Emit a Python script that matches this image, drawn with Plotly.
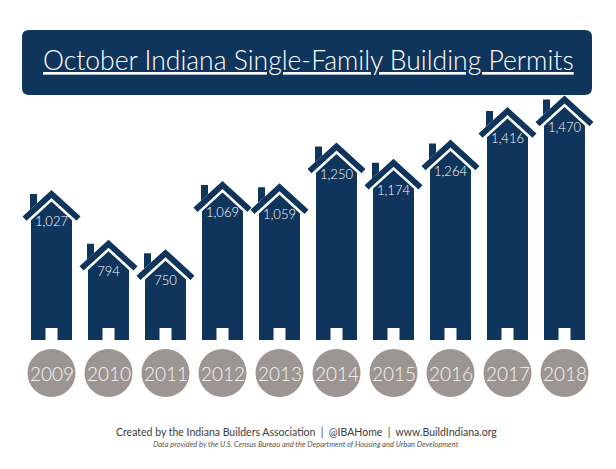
import plotly.graph_objects as go

# ---------------- data ----------------
years = ["2009", "2010", "2011", "2012", "2013", "2014", "2015", "2016", "2017", "2018"]
permits = [1027, 794, 750, 1069, 1059, 1250, 1174, 1264, 1416, 1470]

title_text = "October Indiana Single-Family Building Permits"
footer_1 = "Created by the Indiana Builders Association  |  @IBAHome  |  www.BuildIndiana.org"
footer_2 = "Data provided by the U.S. Census Bureau and the Department of Housing and Urban Development"

# ---------------- layout constants ----------------
W, H = 616, 469
NAVY = "#0f355c"
GRAY = "#9d9592"
FONT = "Lato"

PX_PER_UNIT = 0.2135          # vertical scale (pixels per permit)
REF_V, REF_PX = 1127.3, 168.6 # calibration of the value axis
SLOT_PX = 57.0                # horizontal pixels per category
X0_PX = 51.5                  # pixel centre of first category
BASE_PX = 340                 # ground line of the houses
CIRCLE_PX = 373               # centre line of year circles

y_top = REF_V + REF_PX / PX_PER_UNIT
y_bot = REF_V - (H - REF_PX) / PX_PER_UNIT
BASE = REF_V - (BASE_PX - REF_PX) / PX_PER_UNIT
x_left = -X0_PX / SLOT_PX
x_right = (W - X0_PX) / SLOT_PX


def dx(px):
    return px / SLOT_PX


def dy(px):
    return px / PX_PER_UNIT


def poly(i, v, pts):
    xs, ys = [], []
    for ox, oy, kind in pts:
        xs.append(i + dx(ox))
        if kind == "top":
            ys.append(v - dy(oy))
        else:
            ys.append(BASE + dy(oy))
    xs.append(xs[0]); ys.append(ys[0])
    xs.append(None); ys.append(None)
    return xs, ys


SLOPE = 26.5 / 29
body_pts = [(-20.5, 11.5 + 20.5 * SLOPE, "top"), (0, 11.5, "top"), (20.5, 11.5 + 20.5 * SLOPE, "top"),
            (20.5, 0, "base"), (6, 0, "base"), (6, 12, "base"), (-6, 12, "base"),
            (-6, 0, "base"), (-20.5, 0, "base")]
roof_pts = [(-29, 26.5, "top"), (0, 0, "top"), (29, 26.5, "top"),
            (25.0, 30.85, "top"), (0, 8, "top"), (-25.0, 30.85, "top")]
chim_pts = [(-21.5, 4, "top"), (-14.5, 4, "top"), (-14.5, 14.5 * SLOPE, "top"),
            (-21.5, 21.5 * SLOPE, "top")]

fig = go.Figure()
for pts in (body_pts, roof_pts, chim_pts):
    X, Y = [], []
    for i, v in enumerate(permits):
        xs, ys = poly(i, v, pts)
        X += xs; Y += ys
    fig.add_trace(go.Scatter(x=X, y=Y, mode="lines", fill="toself",
                             fillcolor=NAVY, line=dict(width=0, color=NAVY),
                             hoverinfo="skip", showlegend=False))

# value labels
fig.add_trace(go.Scatter(
    x=list(range(len(permits))),
    y=[v - dy(33) for v in permits],
    mode="text",
    text=[f"{v:,}" for v in permits],
    textfont=dict(family=FONT, size=13, color="white", weight=300),
    hoverinfo="skip", showlegend=False))

shapes = []
annotations = []

# year circles
cy = 1 - CIRCLE_PX / H
for i, yr in enumerate(years):
    shapes.append(dict(type="circle", xref="x", yref="paper",
                       xsizemode="pixel", ysizemode="pixel",
                       xanchor=i, yanchor=cy, x0=-24, x1=24, y0=-24, y1=24,
                       fillcolor=GRAY, line=dict(width=0)))
    annotations.append(dict(x=i, y=cy, xref="x", yref="paper", text=yr,
                            showarrow=False, xanchor="center", yanchor="middle",
                            font=dict(family=FONT, size=19, color="#f4f4f4", weight=300)))

# title banner (rounded rectangle in pixel space -> paper)
bx0, bx1, by0, by1, r = 22, 592, 30, 95, 7


def P(x, y):
    return f"{x / W:.5f},{1 - y / H:.5f}"


path = (f"M {P(bx0 + r, by0)} L {P(bx1 - r, by0)} Q {P(bx1, by0)} {P(bx1, by0 + r)} "
        f"L {P(bx1, by1 - r)} Q {P(bx1, by1)} {P(bx1 - r, by1)} "
        f"L {P(bx0 + r, by1)} Q {P(bx0, by1)} {P(bx0, by1 - r)} "
        f"L {P(bx0, by0 + r)} Q {P(bx0, by0)} {P(bx0 + r, by0)} Z")
shapes.insert(0, dict(type="path", xref="paper", yref="paper", path=path,
                      fillcolor=NAVY, line=dict(width=0), layer="below"))

annotations.append(dict(x=308 / W, y=1 - 60 / H, xref="paper", yref="paper",
                        text=f"<u>{title_text}</u>", showarrow=False,
                        xanchor="center", yanchor="middle",
                        font=dict(family=FONT, size=26.5, color="white", weight=300)))
annotations.append(dict(x=306 / W, y=1 - 432 / H, xref="paper", yref="paper",
                        text=footer_1, showarrow=False,
                        xanchor="center", yanchor="middle",
                        font=dict(family=FONT, size=10.5, color="#3c3c3c")))
annotations.append(dict(x=306 / W, y=1 - 444 / H, xref="paper", yref="paper",
                        text=f"<i>{footer_2}</i>", showarrow=False,
                        xanchor="center", yanchor="middle",
                        font=dict(family=FONT, size=7.5, color="#555555")))

fig.update_layout(
    width=W, height=H,
    margin=dict(l=0, r=0, t=0, b=0),
    paper_bgcolor="white", plot_bgcolor="white",
    xaxis=dict(range=[x_left, x_right], visible=False, fixedrange=True),
    yaxis=dict(range=[y_bot, y_top], visible=False, fixedrange=True),
    shapes=shapes, annotations=annotations,
)

fig.write_html("out.html", config={"displayModeBar": False},
               post_script="document.body.style.margin='0';")
